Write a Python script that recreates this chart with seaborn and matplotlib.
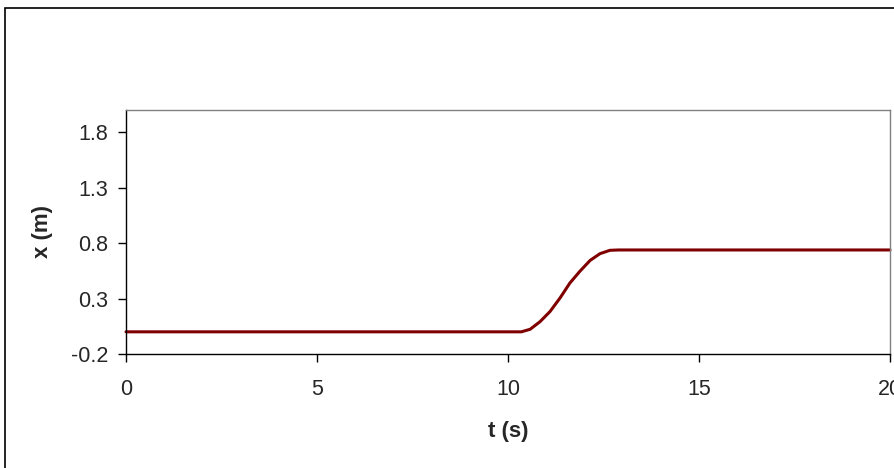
import numpy as np
import pandas as pd
import matplotlib
matplotlib.use("Agg")
import matplotlib.pyplot as plt
import seaborn as sns
from matplotlib.patches import Rectangle

# ── Data ────────────────────────────────────────────────────────────────────
t_s = [0.0, 10.35, 10.58, 10.84, 11.10, 11.36, 11.62, 11.88, 12.15, 12.41, 12.67, 12.9, 20.0]
x_m = [0.0, 0.0, 0.023, 0.092, 0.183, 0.304, 0.440, 0.545, 0.644, 0.705, 0.735, 0.738, 0.738]
x_ticks = [0, 5, 10, 15, 20]
y_ticks = [-0.2, 0.3, 0.8, 1.3, 1.8]

df = pd.DataFrame({"t": t_s, "x": x_m})

# ── Style ───────────────────────────────────────────────────────────────────
sns.set_style("white")
plt.rcParams['font.family'] = ['Liberation Sans', 'DejaVu Sans']

fig = plt.figure(figsize=(8.95, 4.68), dpi=100)
ax = fig.add_axes([126 / 895, 1 - 354 / 468, 764 / 895, 244 / 468])

sns.lineplot(data=df, x="t", y="x", ax=ax, color="#800000", linewidth=2.2,
             clip_on=False)

ax.set_xlim(0, 20)
ax.set_ylim(-0.2, 2.0)
ax.set_xticks(x_ticks)
ax.set_yticks(y_ticks)
ax.set_xticklabels([str(v) for v in x_ticks])
ax.set_yticklabels([f"{v:.1f}" for v in y_ticks])
ax.tick_params(axis="both", direction="out", length=6, width=1, color="black",
               labelsize=15.5, bottom=True, left=True)
ax.tick_params(axis="y", pad=7)
ax.tick_params(axis="x", pad=12)

for side in ["left", "bottom"]:
    ax.spines[side].set_color("black")
    ax.spines[side].set_linewidth(1)
for side in ["top", "right"]:
    ax.spines[side].set_color("#808080")
    ax.spines[side].set_linewidth(1)

ax.set_xlabel("t (s)", fontsize=16, fontweight="bold", va="center")
ax.set_ylabel("x (m)", fontsize=16, fontweight="bold", va="center")
ax.xaxis.set_label_coords(0.5, -(431 - 354) / 244)
ax.yaxis.set_label_coords(-(126 - 43) / 764, 0.5)

# outer chart frame (cut off at the right and bottom edges)
fig.patches.append(Rectangle((5.5 / 895, -0.1), 1.2, 1 - 8 / 468 + 0.1,
                             transform=fig.transFigure, fill=False,
                             edgecolor="black", linewidth=1.2))

fig.savefig("out.png", dpi=100)
